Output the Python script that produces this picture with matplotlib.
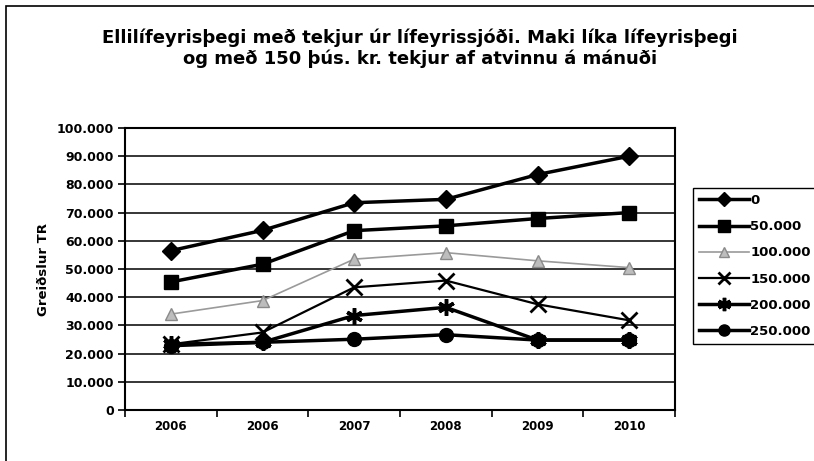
import matplotlib.pyplot as plt
from matplotlib.patches import Rectangle

plt.rcParams['font.family'] = ['DejaVu Sans']
plt.rcParams['font.weight'] = 'bold'

## données
ar = ["2006", "2006", "2007", "2008", "2009", "2010"]
s0 = [56500, 63700, 73500, 74700, 83500, 90000]
s50 = [45400, 51700, 63600, 65300, 67900, 70000]
s100 = [34000, 38800, 53500, 55800, 52900, 50500]
s150 = [23300, 27500, 43500, 45900, 37500, 31800]
s200 = [23300, 24000, 33500, 36400, 24800, 24800]
s250 = [22800, 24000, 25100, 26700, 24800, 24800]
heiti = ["0", "50.000", "100.000", "150.000", "200.000", "250.000"]

titill = "Ellilífeyrisþegi með tekjur úr lífeyrissjóði. Maki líka lífeyrisþegi\nog með 150 þús. kr. tekjur af atvinnu á mánuði"

fig = plt.figure(figsize=(8.14, 4.61), dpi=100)
# cadre du graphique
fig.patches.append(Rectangle((6/814, -0.1), 1.2, 1 - 6/461 + 0.1, transform=fig.transFigure,
                             fill=False, edgecolor='black', linewidth=1.2))

ax = fig.add_axes([125/814, 1 - 410/461, 550/814, 282/461])
x = range(len(ar))

ax.plot(x, s0, color='black', lw=2.5, marker='D', ms=9, label=heiti[0])
ax.plot(x, s50, color='black', lw=2.5, marker='s', ms=10, label=heiti[1])
ax.plot(x, s100, color='#9a9a9a', lw=1.2, marker='^', ms=9, mfc='#bdbdbd', mec='#8a8a8a', label=heiti[2])
ax.plot(x, s150, color='black', lw=1.6, marker='x', ms=11, mew=2, label=heiti[3])
ax.plot(x, s200, color='black', lw=2.5, marker=(6, 2, 0), ms=12, mew=2.5, label=heiti[4])
ax.plot(x, s250, color='black', lw=2.5, marker='o', ms=10, label=heiti[5])

ax.set_xlim(-0.5, len(ar) - 0.5)
ax.set_ylim(0, 100000)
ax.set_yticks(range(0, 100001, 10000))
ax.set_yticklabels(["{:,}".format(v).replace(",", ".") for v in range(0, 100001, 10000)],
                   fontsize=9, fontweight='bold')
ax.set_xticks(list(x))
ax.set_xticklabels(ar, fontsize=8.5, fontweight='bold')
ax.set_xticks([i + 0.5 for i in range(-1, len(ar))], minor=True)
ax.tick_params(axis='x', which='major', length=0, pad=7)
ax.tick_params(axis='x', which='minor', length=5, width=1.2, direction='out')
ax.tick_params(axis='y', length=5, width=1.2, direction='out', pad=3)
ax.yaxis.grid(True, color='black', lw=1.1)
ax.set_axisbelow(True)
for sp in ax.spines.values():
    sp.set_linewidth(1.5)
ax.set_ylabel("Greiðslur TR", fontsize=9.5, fontweight='bold', labelpad=5)

fig.text(420/814, 1 - 48/461, titill, ha='center', va='center', fontsize=13,
         fontweight='bold', linespacing=1.2)

ax.legend(loc='upper left', bbox_to_anchor=(693/814, 1 - 188/461), bbox_transform=fig.transFigure,
          frameon=True, fancybox=False, edgecolor='black', framealpha=1,
          handlelength=3.8, handletextpad=0.1, borderpad=0.45, labelspacing=1.0,
          markerscale=0.8, borderaxespad=0, prop={'weight': 'bold', 'size': 9.5})

plt.savefig('out.png', dpi=100)
